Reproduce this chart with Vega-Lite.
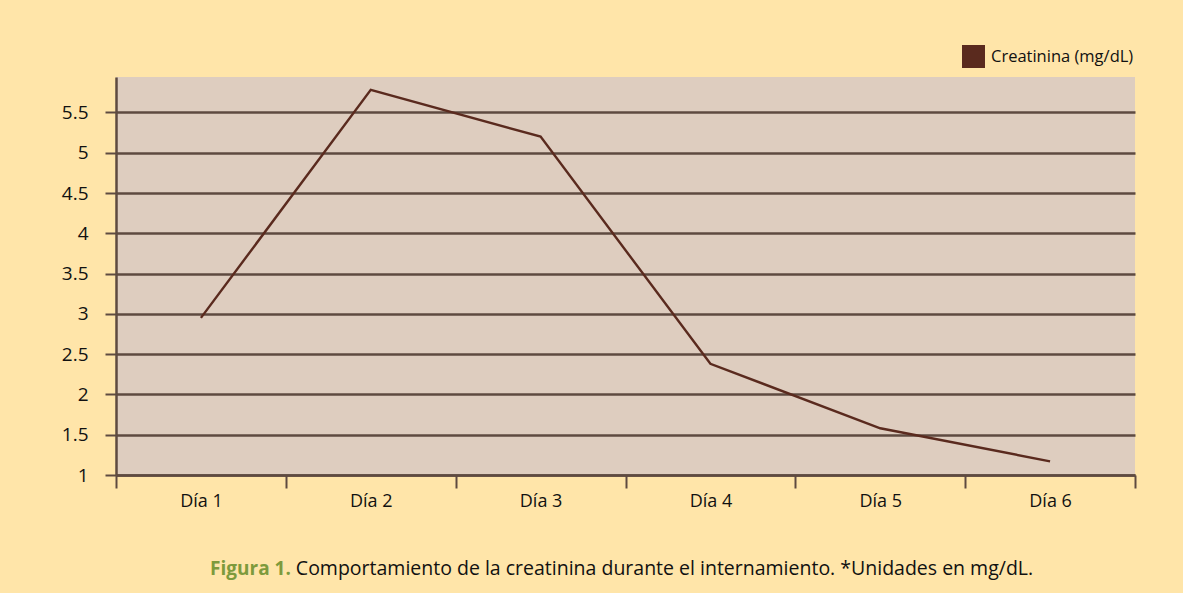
{
  "$schema": "https://vega.github.io/schema/vega-lite/v6.json",
  "autosize": "none",
  "width": 1019,
  "height": 398,
  "padding": {"left": 116, "top": 77, "right": 48, "bottom": 118},
  "background": "#ffe5a9",
  "config": {
    "font": "Open Sans",
    "view": {"fill": "#decdbf", "stroke": null}
  },
  "data": {
    "values": [
      {"dia": "Día 1", "creatinina": 2.95, "serie": "Creatinina (mg/dL)"},
      {"dia": "Día 2", "creatinina": 5.78, "serie": "Creatinina (mg/dL)"},
      {"dia": "Día 3", "creatinina": 5.2, "serie": "Creatinina (mg/dL)"},
      {"dia": "Día 4", "creatinina": 2.38, "serie": "Creatinina (mg/dL)"},
      {"dia": "Día 5", "creatinina": 1.58, "serie": "Creatinina (mg/dL)"},
      {"dia": "Día 6", "creatinina": 1.17, "serie": "Creatinina (mg/dL)"}
    ]
  },
  "mark": {"type": "line", "strokeWidth": 2.4},
  "encoding": {
    "x": {
      "field": "dia",
      "type": "ordinal",
      "sort": null,
      "scale": {"type": "band", "paddingInner": 0, "paddingOuter": 0},
      "axis": {
        "labelAngle": 0,
        "tickBand": "extent",
        "tickSize": 13,
        "tickWidth": 2,
        "tickColor": "#5e4a40",
        "domainColor": "#5e4a40",
        "domainWidth": 2.5,
        "labelFontSize": 18,
        "labelColor": "#111111",
        "labelPadding": 4,
        "title": "Comportamiento de la creatinina durante el internamiento. *Unidades en mg/dL.",
        "titleFontSize": 19.5,
        "titleFontWeight": "normal",
        "titleColor": "#111111",
        "titleX": 548,
        "titleY": 99,
        "titleAlign": "center",
        "titleBaseline": "alphabetic"
      }
    },
    "y": {
      "field": "creatinina",
      "type": "quantitative",
      "scale": {"domain": [1, 5.94], "nice": false, "zero": false},
      "axis": {
        "values": [1, 1.5, 2, 2.5, 3, 3.5, 4, 4.5, 5, 5.5],
        "format": "~g",
        "grid": true,
        "gridColor": "#5e4a40",
        "gridWidth": 2.5,
        "gridOpacity": 1,
        "tickSize": 11,
        "tickWidth": 2,
        "tickColor": "#5e4a40",
        "domainColor": "#5e4a40",
        "domainWidth": 2.5,
        "labelFontSize": 19,
        "labelColor": "#111111",
        "labelPadding": 17,
        "title": "Figura 1.",
        "titleAngle": 0,
        "titleX": 134,
        "titleY": 497,
        "titleAlign": "center",
        "titleBaseline": "alphabetic",
        "titleFontSize": 19,
        "titleFontWeight": "bold",
        "titleColor": "#7d9a3c"
      }
    },
    "color": {
      "field": "serie",
      "type": "nominal",
      "scale": {"range": ["#5a2a1e"]},
      "legend": {
        "orient": "none",
        "legendX": 846,
        "legendY": -32,
        "title": null,
        "symbolType": "square",
        "symbolSize": 529,
        "symbolFillColor": "#5a2a1e",
        "symbolStrokeWidth": 0,
        "labelFontSize": 16.5,
        "labelColor": "#111111",
        "labelOffset": 6,
        "padding": 0
      }
    }
  }
}
